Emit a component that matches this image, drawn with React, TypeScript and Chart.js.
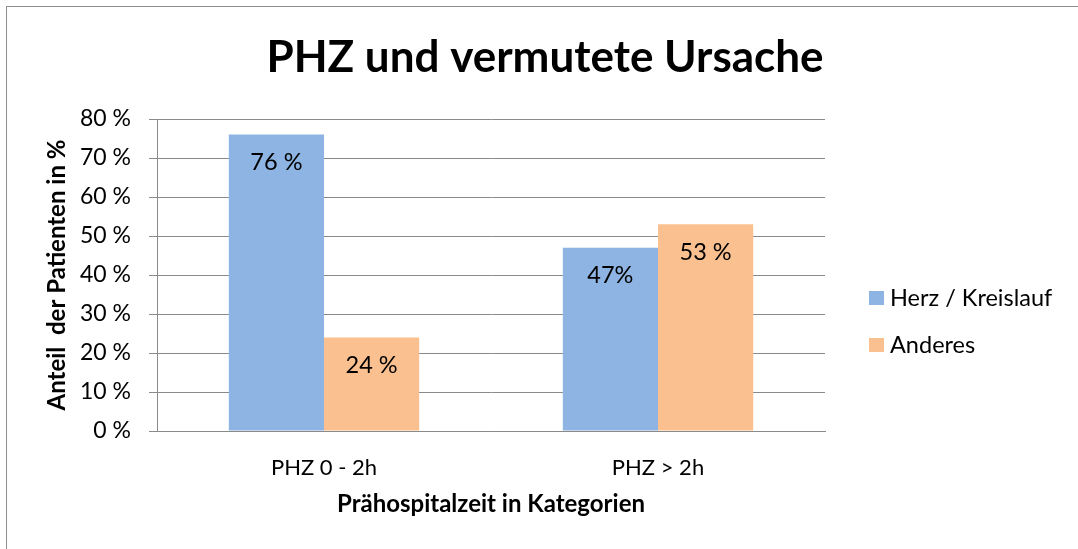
import React, { useEffect, useRef } from 'react';
import { Chart, registerables } from 'chart.js';

Chart.register(...registerables);

const chartTitle = 'PHZ und vermutete Ursache';
const categories = ['PHZ 0 - 2h', 'PHZ > 2h'];
const seriesNames = ['Herz / Kreislauf', 'Anderes'];
const herzValues = [76, 47];
const anderesValues = [24, 53];
const herzLabels = ['76 %', '47%'];
const anderesLabels = ['24 %', '53 %'];
const yTitle = 'Anteil  der Patienten in %';
const xTitle = 'Prähospitalzeit in Kategorien';
const yMin = 0;
const yMax = 80;
const yStep = 10;

const BLUE = '#8DB4E2';
const ORANGE = '#FAC08F';
const GRID = '#8a8a8a';
const FONT = 'Lato';

const valueLabels = [herzLabels, anderesLabels];
const colors = [BLUE, ORANGE];

const framePlugin = {
  id: 'frame',
  beforeDraw(chart: any) {
    const ctx = chart.ctx;
    ctx.save();
    ctx.fillStyle = '#ffffff';
    ctx.fillRect(0, 0, chart.width, chart.height);
    ctx.strokeStyle = '#8e8e8e';
    ctx.lineWidth = 1;
    ctx.strokeRect(6.5, 6.5, chart.width + 100, chart.height + 100);
    ctx.restore();
  },
};

const titleLegendPlugin = {
  id: 'titleLegend',
  afterDraw(chart: any) {
    const ctx = chart.ctx;
    ctx.save();
    ctx.fillStyle = '#000000';
    ctx.font = `bold 44px ${FONT}`;
    ctx.textAlign = 'center';
    ctx.textBaseline = 'middle';
    ctx.fillText(chartTitle, 545, 58);

    ctx.font = `23.5px ${FONT}`;
    ctx.textAlign = 'left';
    seriesNames.forEach((name, i) => {
      const cy = 298 + i * 47;
      ctx.fillStyle = colors[i];
      ctx.fillRect(869, cy - 7, 15, 14);
      ctx.fillStyle = '#000000';
      ctx.fillText(name, 890, cy);
    });
    ctx.restore();
  },
};

const dataLabelPlugin = {
  id: 'dataLabels',
  afterDatasetsDraw(chart: any) {
    const ctx = chart.ctx;
    ctx.save();
    ctx.fillStyle = '#000000';
    ctx.font = `23.5px ${FONT}`;
    ctx.textAlign = 'center';
    ctx.textBaseline = 'middle';
    chart.data.datasets.forEach((ds: any, di: number) => {
      const meta = chart.getDatasetMeta(di);
      meta.data.forEach((bar: any, i: number) => {
        ctx.fillText(valueLabels[di][i], bar.x, bar.y + 28);
      });
    });
    ctx.restore();
  },
};

export default function App() {
  const canvasRef = useRef<HTMLCanvasElement | null>(null);

  useEffect(() => {
    if (!canvasRef.current) return;
    const chart = new Chart(canvasRef.current, {
      type: 'bar',
      data: {
        labels: categories,
        datasets: [
          { label: seriesNames[0], data: herzValues, backgroundColor: BLUE },
          { label: seriesNames[1], data: anderesValues, backgroundColor: ORANGE },
        ],
      },
      options: {
        responsive: false,
        animation: false,
        devicePixelRatio: 1,
        layout: { padding: { left: 0, top: 119, right: 253, bottom: 0 } },
        datasets: { bar: { categoryPercentage: 0.57, barPercentage: 1 } },
        plugins: {
          legend: { display: false },
          title: { display: false },
          tooltip: { enabled: false },
        },
        scales: {
          x: {
            grid: { display: false, drawTicks: false },
            border: { display: true, color: GRID, width: 1 },
            ticks: { color: '#000', font: { family: FONT, size: 22 }, padding: 24 },
            title: {
              display: true,
              text: xTitle,
              color: '#000',
              font: { family: FONT, size: 24, weight: 'bold' },
              padding: { top: 0, bottom: 30 },
            },
            afterFit: (s: any) => { s.height = 118; },
          },
          y: {
            min: yMin,
            max: yMax,
            grid: { color: GRID, lineWidth: 1, drawTicks: true, tickLength: 8 },
            border: { display: true, color: GRID, width: 1 },
            ticks: {
              stepSize: yStep,
              color: '#000',
              font: { family: FONT, size: 23 },
              padding: 18,
              callback: (v: any) => `${v} %`,
            },
            title: {
              display: true,
              text: yTitle,
              color: '#000',
              font: { family: FONT, size: 24, weight: 'bold' },
              padding: { top: 43, bottom: 0 },
            },
            afterFit: (s: any) => { s.width = 157; },
          },
        },
      },
      plugins: [framePlugin, titleLegendPlugin, dataLabelPlugin],
    });
    return () => chart.destroy();
  }, []);

  return (
    <div style={{ position: 'absolute', left: 0, top: 0, width: 1078, height: 549, overflow: 'hidden' }}>
      <canvas ref={canvasRef} width={1078} height={549} />
    </div>
  );
}
